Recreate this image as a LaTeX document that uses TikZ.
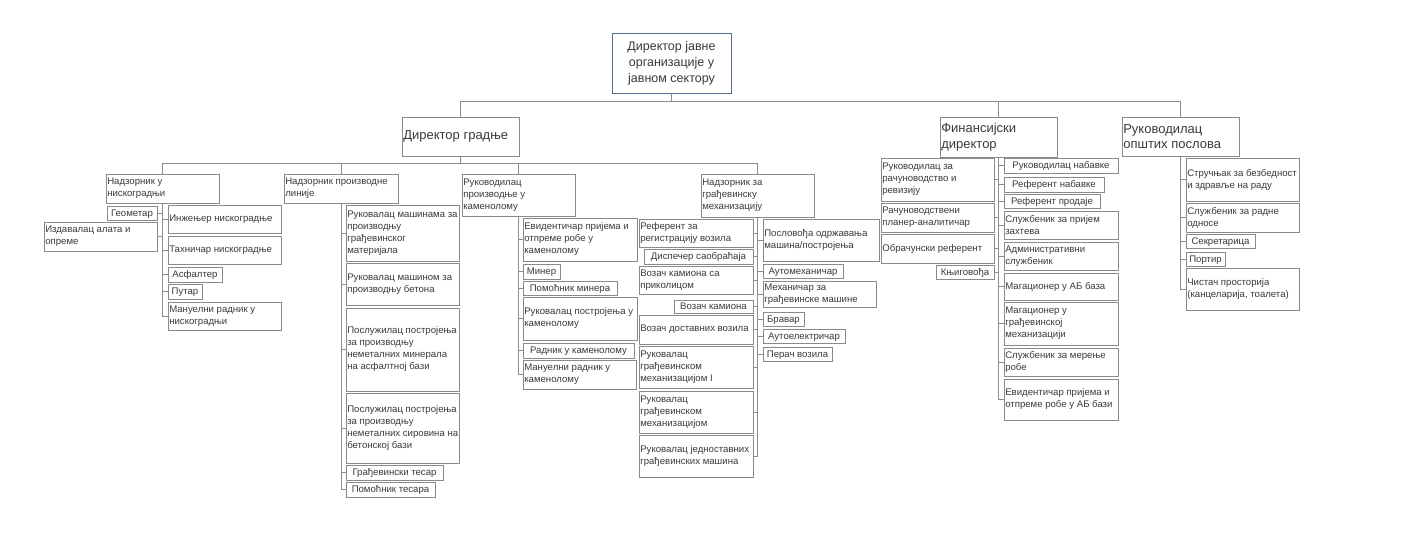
\documentclass[tikz,border=0pt]{standalone}
\usepackage{fontspec}
\setmainfont{Liberation Sans}
\definecolor{boxline}{HTML}{8A8A8A}
\definecolor{rootline}{HTML}{4F6E98}
\definecolor{conline}{HTML}{8C8C8C}
\definecolor{txtcol}{HTML}{3A3A3A}
\tikzset{
  box/.style={draw=boxline,line width=0.8pt,fill=white,inner sep=0pt,text=txtcol,
    font=\fontsize{9.6}{12}\selectfont,align=center},
  sbox/.style={box,text height=7.8pt,text depth=1.6pt},
  txt/.style={inner sep=0pt,text=txtcol,font=\fontsize{9.6}{12}\selectfont,align=left},
  bigtxt/.style={inner sep=0pt,text=txtcol,font=\fontsize{13}{15.5}\selectfont,align=left},
  conn/.style={draw=conline,line width=0.8pt},
}
% left-aligned box: name, x1,y1,x2,y2, text
\newcommand\lbx[7][txt]{%
  \node[box,minimum width={(#5-#3)*1pt},minimum height={(#6-#4)*1pt}] (#2) at ({(#3+#5)/2},{(#4+#6)/2}) {};
  \node[#1,anchor=west] (#2t) at ([xshift=1.5pt]#2.west) {#7};}
% centered box
\newcommand\cbx[6]{%
  \node[sbox,minimum width={(#4-#2)*1pt},minimum height={(#5-#3)*1pt}] (#1) at ({(#2+#4)/2},{(#3+#5)/2}) {#6};}
\begin{document}
\begin{tikzpicture}[x=1pt,y=-1pt]
\useasboundingbox[fill=white] (0,0) rectangle (1403,550);
% root
\node[box,draw=rootline,minimum width=119pt,minimum height=60pt,font=\fontsize{12.5}{16}\selectfont] (r) at (671.5,63) {Директор јавне\\организације у\\јавном сектору};
% level 2
\lbx[bigtxt]{dg}{402}{117}{519}{156}{Директор градње}
\lbx[bigtxt]{fd}{940}{117}{1057}{157}{Финансијски\\директор}
\lbx[bigtxt]{op}{1122}{117}{1239}{156}{Руководилац\\општих послова}
% level 3 under dg
\lbx{a}{106}{174}{219}{203}{Надзорник у\\нискоградњи}
\lbx{b}{284}{174}{398}{203}{Надзорник производне\\линије}
\lbx{c}{462}{174}{575}{216}{Руководилац\\производње у\\каменолому}
\lbx{d}{701}{174}{814}{217}{Надзорник за\\грађевинску\\механизацију}
% children of a
\cbx{a1}{107}{206}{157}{220}{Геометар}
\lbx{a2}{44}{222}{157}{251}{Издавалац алата и\\опреме}
\lbx{a3}{168}{205}{281}{233}{Инжењер нискоградње}
\lbx{a4}{168}{236}{281}{264}{Тахничар нискоградње}
\cbx{a5}{168}{267}{222}{282}{Асфалтер}
\cbx{a6}{168}{284}{202}{299}{Путар}
\lbx{a7}{168}{302}{281}{330}{Мануелни радник у\\нискоградњи}
% children of b
\lbx{b1}{346}{205}{459}{261}{Руковалац машинама за\\производњу\\грађевинског\\материјала}
\lbx{b2}{346}{263}{459}{305}{Руковалац машином за\\производњу бетона}
\lbx{b3}{346}{308}{459}{391}{Послужилац постројења\\за производњу\\неметалних минерала\\на асфалтној бази}
\lbx{b4}{346}{393}{459}{463}{Послужилац постројења\\за производњу\\неметалних сировина на\\бетонској бази}
\cbx{b5}{346}{465}{443}{480}{Грађевински тесар}
\cbx{b6}{346}{482}{435}{497}{Помоћник тесара}
% children of c
\lbx{c1}{523}{218}{637}{261}{Евидентичар пријема и\\отпреме робе у\\каменолому}
\cbx{c2}{523}{264}{560}{279}{Минер}
\cbx{c3}{523}{281}{617}{295}{Помоћник минера}
\lbx{c4}{523}{297}{637}{340}{Руковалац постројења у\\каменолому}
\cbx{c5}{523}{343}{634}{358}{Радник у каменолому}
\lbx{c6}{523}{360}{636}{389}{Мануелни радник у\\каменолому}
% children of d
\lbx{d1}{639}{219}{753}{247}{Референт за\\регистрацију возила}
\cbx{d2}{644}{249}{753}{264}{Диспечер саобраћаја}
\lbx{d3}{639}{266}{753}{294}{Возач камиона са\\приколицом}
\cbx{d4}{674}{300}{753}{313}{Возач камиона}
\lbx{d5}{639}{315}{753}{344}{Возач доставних возила}
\lbx{d6}{639}{346}{753}{388}{Руковалац\\грађевинском\\механизацијом I}
\lbx{d7}{639}{391}{753}{433}{Руковалац\\грађевинском\\механизацијом}
\lbx{d8}{639}{435}{753}{477}{Руковалац једноставних\\грађевинских машина}
\lbx{d9}{763}{219}{879}{261}{Пословођа одржавања\\машина/постројења}
\cbx{d10}{763}{264}{843}{278}{Аутомеханичар}
\lbx{d11}{763}{281}{876}{307}{Механичар за\\грађевинске машине}
\cbx{d12}{763}{312}{804}{326}{Бравар}
\cbx{d13}{763}{329}{845}{343}{Аутоелектричар}
\cbx{d14}{763}{347}{832}{361}{Перач возила}
% children of fd
\lbx{f1}{881}{158}{994}{201}{Руководилац за\\рачуноводство и\\ревизију}
\lbx{f2}{881}{203}{994}{232}{Рачуноводствени\\планер-аналитичар}
\lbx{f3}{881}{234}{994}{263}{Обрачунски референт}
\cbx{f4}{936}{265}{994}{279}{Књиговођа}
\cbx{f5}{1004}{158}{1118}{173}{Руководилац набавке}
\cbx{f6}{1004}{177}{1104}{192}{Референт набавке}
\cbx{f7}{1004}{194}{1100}{208}{Референт продаје}
\lbx{f8}{1004}{211}{1118}{239}{Службеник за пријем\\захтева}
\lbx{f9}{1004}{242}{1118}{270}{Административни\\службеник}
\lbx{f10}{1004}{273}{1118}{300}{Магационер у АБ база}
\lbx{f11}{1004}{302}{1118}{345}{Магационер у\\грађевинској\\механизацији}
\lbx{f12}{1004}{348}{1118}{376}{Службеник за мерење\\робе}
\lbx{f13}{1004}{379}{1118}{420}{Евидентичар пријема и\\отпреме робе у АБ бази}
% children of op
\lbx{o1}{1186}{158}{1299}{201}{Стручњак за безбедност\\и здравље на раду}
\lbx{o2}{1186}{203}{1299}{232}{Службеник за радне\\односе}
\cbx{o3}{1186}{234}{1255}{248}{Секретарица}
\cbx{o4}{1186}{252}{1225}{266}{Портир}
\lbx{o5}{1186}{268}{1299}{310}{Чистач просторија\\(канцеларија, тоалета)}
% connectors
\coordinate (busA) at (671.5,101);
\coordinate (busB) at (460.5,163);
\draw[conn] (r.south) -- (busA) -| (dg.north);
\draw[conn] (busA) -| (fd.north);
\draw[conn] (busA) -| (op.north);
\draw[conn] (dg.south) -- (busB) -| (a.north);
\draw[conn] (busB) -| (b.north);
\draw[conn] (busB) -| (c.north);
\draw[conn] (busB) -| (d.north);
\foreach \k in {a1,a2} \draw[conn] (a.south) |- (\k.east);
\foreach \k in {a3,a4,a5,a6,a7} \draw[conn] (a.south) |- (\k.west);
\foreach \k in {b1,b2,b3,b4,b5,b6} \draw[conn] (b.south) |- (\k.west);
\foreach \k in {c1,c2,c3,c4,c5,c6} \draw[conn] (c.south) |- (\k.west);
\foreach \k in {d1,d2,d3,d4,d5,d6,d7,d8} \draw[conn] (d.south) |- (\k.east);
\foreach \k in {d9,d10,d11,d12,d13,d14} \draw[conn] (d.south) |- (\k.west);
\foreach \k in {f1,f2,f3,f4} \draw[conn] (fd.south) |- (\k.east);
\foreach \k in {f5,f6,f7,f8,f9,f10,f11,f12,f13} \draw[conn] (fd.south) |- (\k.west);
\foreach \k in {o1,o2,o3,o4,o5} \draw[conn] (op.south) |- (\k.west);
\end{tikzpicture}
\end{document}
